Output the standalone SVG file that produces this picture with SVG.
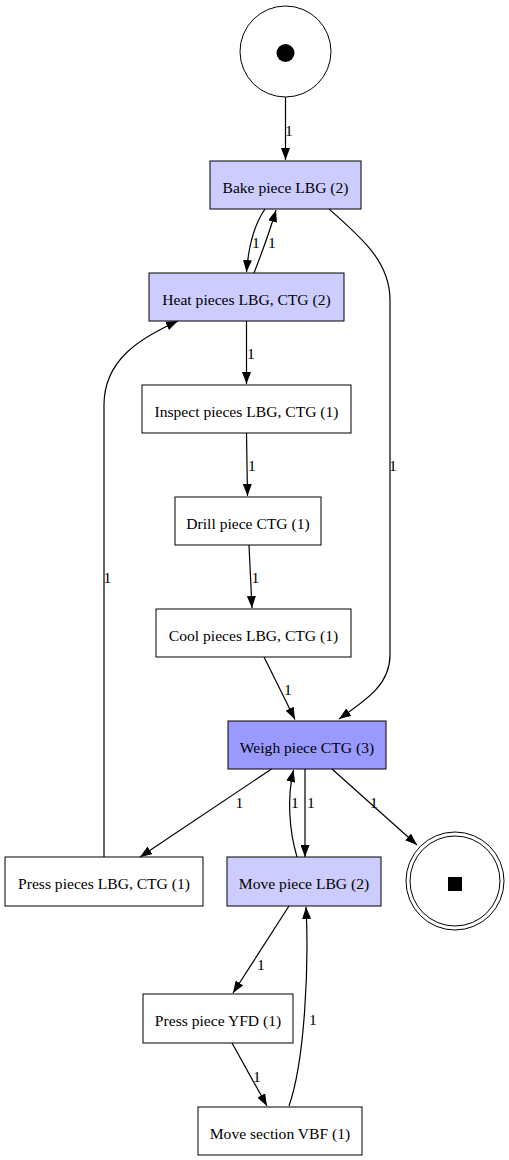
<svg xmlns="http://www.w3.org/2000/svg" width="509" height="1160" viewBox="0 0 509 1160">
  <style>
    text { font-family: "Liberation Serif", "Times New Roman", serif; font-size: 15.6px; fill: #000; }
    .node text { text-anchor: middle; }
    .lbl { text-anchor: middle; }
    .box { stroke: #000; stroke-width: 1; }
    .plain { fill: #fff; }
    .hot1 { fill: #ccccff; }
    .hot3 { fill: #9999ff; }
    .edge { fill: none; stroke: #000; stroke-width: 1.2; marker-end: url(#arrow); }
  </style>
  <defs>
    <marker id="arrow" viewBox="0 0 12 9" markerWidth="12" markerHeight="9" refX="12" refY="4.5" markerUnits="userSpaceOnUse" orient="auto">
      <path d="M0,0 L12,4.5 L0,9 z" fill="#000"/>
    </marker>
  </defs>

  <!-- places and transitions -->
  <g id="start" class="node">
    <circle cx="285.5" cy="51.5" r="45.5" fill="#fff" stroke="#000"/>
    <circle cx="285.5" cy="53" r="9" fill="#000"/>
  </g>
  <g id="bake" class="node">
    <rect class="box hot1" x="210" y="161" width="151" height="48"/>
    <text x="285.5" y="192.5">Bake piece LBG (2)</text>
  </g>
  <g id="heat" class="node">
    <rect class="box hot1" x="149" y="273" width="195" height="48"/>
    <text x="246.5" y="304.5">Heat pieces LBG, CTG (2)</text>
  </g>
  <g id="inspect" class="node">
    <rect class="box plain" x="142" y="385" width="209" height="48"/>
    <text x="246.5" y="416.5">Inspect pieces LBG, CTG (1)</text>
  </g>
  <g id="drill" class="node">
    <rect class="box plain" x="175" y="497" width="146" height="48"/>
    <text x="248" y="528.5">Drill piece CTG (1)</text>
  </g>
  <g id="cool" class="node">
    <rect class="box plain" x="156" y="609" width="195" height="48"/>
    <text x="253.5" y="640.5">Cool pieces LBG, CTG (1)</text>
  </g>
  <g id="weigh" class="node">
    <rect class="box hot3" x="228" y="721" width="158" height="48"/>
    <text x="307" y="752.5">Weigh piece CTG (3)</text>
  </g>
  <g id="press-pieces" class="node">
    <rect class="box plain" x="5" y="857" width="198" height="49"/>
    <text x="104" y="889">Press pieces LBG, CTG (1)</text>
  </g>
  <g id="move-piece" class="node">
    <rect class="box hot1" x="227" y="857" width="154" height="49"/>
    <text x="304" y="889">Move piece LBG (2)</text>
  </g>
  <g id="end" class="node">
    <circle cx="455" cy="881" r="49" fill="#fff" stroke="#000"/>
    <circle cx="455" cy="881" r="45" fill="none" stroke="#000"/>
    <rect x="448" y="877" width="14" height="14" fill="#000"/>
  </g>
  <g id="press-yfd" class="node">
    <rect class="box plain" x="143" y="994" width="150" height="49"/>
    <text x="218" y="1026">Press piece YFD (1)</text>
  </g>
  <g id="move-section" class="node">
    <rect class="box plain" x="198" y="1107" width="164" height="48"/>
    <text x="280" y="1138.5">Move section VBF (1)</text>
  </g>

  <!-- arcs with weights -->
  <g id="connectors">
    <path class="edge" d="M285.5,97 L285.5,160"/>
    <text class="lbl" x="289" y="136">1</text>

    <path class="edge" d="M265,209 C256,222 249,240 246.5,272"/>
    <text class="lbl" x="256" y="248">1</text>

    <path class="edge" d="M254,273 C261,255 269,234 276,210"/>
    <text class="lbl" x="272" y="248">1</text>

    <path class="edge" d="M329,209 C362,238 390,262 390,300 L390,655 C390,685 366,700 339,719"/>
    <text class="lbl" x="393" y="471">1</text>

    <path class="edge" d="M246.5,321 L246.5,384"/>
    <text class="lbl" x="251" y="359">1</text>

    <path class="edge" d="M246.5,433 L247.5,496"/>
    <text class="lbl" x="252" y="471">1</text>

    <path class="edge" d="M249,545 L252,608"/>
    <text class="lbl" x="255.5" y="583">1</text>

    <path class="edge" d="M264,657 L295,719.5"/>
    <text class="lbl" x="288" y="695">1</text>

    <path class="edge" d="M104,857 L104,405 C104,360 140,338 178,321"/>
    <text class="lbl" x="107.5" y="583">1</text>

    <path class="edge" d="M271.5,769 L140,857"/>
    <text class="lbl" x="239.5" y="808">1</text>

    <path class="edge" d="M297,857 C289,830 287,797 293.5,770"/>
    <text class="lbl" x="295" y="808">1</text>

    <path class="edge" d="M305,769 L305,857"/>
    <text class="lbl" x="311" y="808">1</text>

    <path class="edge" d="M332,769 L417,845"/>
    <text class="lbl" x="374" y="808">1</text>

    <path class="edge" d="M289,906 L233,993"/>
    <text class="lbl" x="261" y="970">1</text>

    <path class="edge" d="M232,1043 L267,1106"/>
    <text class="lbl" x="257" y="1082">1</text>

    <path class="edge" d="M289,1106 C305,1060 309,965 306,907"/>
    <text class="lbl" x="313" y="1025">1</text>
  </g>
</svg>
